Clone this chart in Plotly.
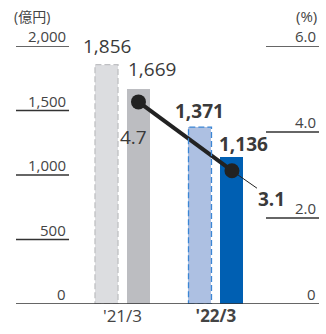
import plotly.graph_objects as go

# Fiscal periods and values
categories = ["'21/3", "'22/3"]
plan_values = [1856, 1371]        # 億円, dashed bars
actual_values = [1669, 1136]      # 億円, solid bars
ratio_values = [4.7, 3.1]         # %, line on right axis
left_ticks = [0, 500, 1000, 1500, 2000]
left_tick_text = ["0", "500", "1,000", "1,500", "2,000"]
right_ticks = [0, 2.0, 4.0, 6.0]
right_tick_text = ["0", "2.0", "4.0", "6.0"]

FONT = "Open Sans, Noto Sans CJK JP, sans-serif"
TEXT = "#3a3a3a"
plan_fill = ["#dcdde0", "#adc0e2"]
plan_edge = ["#bfc0c3", "#3b86d5"]
actual_fill = ["#bcbdc1", "#005fb2"]

OFFSET = 0.171   # bar centre offset from category centre (x units)
WIDTH = 0.246    # bar width (x units)

xc = list(range(len(categories)))
x_plan = [c - OFFSET for c in xc]
x_actual = [c + OFFSET for c in xc]

fig = go.Figure()

fig.add_trace(go.Bar(x=x_plan, y=plan_values, width=WIDTH,
                     marker=dict(color=plan_fill, line=dict(width=0)),
                     hoverinfo="skip", showlegend=False))
fig.add_trace(go.Bar(x=x_actual, y=actual_values, width=WIDTH,
                     marker=dict(color=actual_fill, line=dict(width=0)),
                     hoverinfo="skip", showlegend=False))

# dashed outlines on the plan bars
for xp, v, ec in zip(x_plan, plan_values, plan_edge):
    fig.add_shape(type="rect", xref="x", yref="y",
                  x0=xp - WIDTH / 2, x1=xp + WIDTH / 2, y0=0, y1=v,
                  line=dict(color=ec, width=1.3, dash="6px,3px"),
                  fillcolor="rgba(0,0,0,0)", layer="above")

# ratio line
fig.add_trace(go.Scatter(x=x_actual, y=ratio_values, yaxis="y2",
                         mode="lines+markers",
                         line=dict(color="#222222", width=4),
                         marker=dict(size=15, color="#222222"),
                         hoverinfo="skip", showlegend=False))

# bar value labels
plan_bold = [False, True]
actual_bold = [False, True]
plan_yshift = [4, 1]
actual_xshift = [14, 12]
actual_yshift = [5, -2]
for xp, v, b, dy in zip(x_plan, plan_values, plan_bold, plan_yshift):
    t = f"{v:,}"
    fig.add_annotation(x=xp, y=v, xref="x", yref="y",
                       text=f"<b>{t}</b>" if b else t, showarrow=False,
                       yanchor="bottom", yshift=dy,
                       font=dict(family=FONT, size=19, color=TEXT))
for xa, v, b, dx, dy in zip(x_actual, actual_values, actual_bold,
                            actual_xshift, actual_yshift):
    t = f"{v:,}"
    fig.add_annotation(x=xa, y=v, xref="x", yref="y",
                       text=f"<b>{t}</b>" if b else t, showarrow=False,
                       yanchor="bottom", yshift=dy, xshift=dx,
                       font=dict(family=FONT, size=19, color=TEXT))

# ratio labels
fig.add_annotation(x=x_actual[0], y=ratio_values[0], xref="x", yref="y2",
                   text=f"{ratio_values[0]:.1f}", showarrow=False,
                   xshift=-5, yshift=-35,
                   font=dict(family=FONT, size=19, color=TEXT))
fig.add_annotation(x=x_actual[1], y=ratio_values[1], xref="x", yref="y2",
                   text=f"<b>{ratio_values[1]:.1f}</b>", showarrow=True,
                   arrowhead=0, arrowwidth=1, arrowcolor="#222222",
                   ax=40, ay=28, standoff=5,
                   font=dict(family=FONT, size=19, color=TEXT))

# left axis ticks: short rules with labels above, right-aligned
for v, t in zip(left_ticks, left_tick_text):
    if v > 0:
        fig.add_shape(type="line", xref="paper", yref="y",
                      x0=0, x1=0.175, y0=v, y1=v,
                      line=dict(color="#333333", width=1.3))
    fig.add_annotation(x=0.172, y=v, xref="paper", yref="y", text=t,
                       showarrow=False, xanchor="right", yanchor="bottom",
                       yshift=-2, font=dict(family=FONT, size=15, color="#444444"))

# right axis ticks
for v, t in zip(right_ticks, right_tick_text):
    if v > 0:
        fig.add_shape(type="line", xref="paper", yref="y2",
                      x0=0.825, x1=1, y0=v, y1=v,
                      line=dict(color="#333333", width=1.3))
    fig.add_annotation(x=0.997, y=v, xref="paper", yref="y2", text=t,
                       showarrow=False, xanchor="right", yanchor="bottom",
                       yshift=-2, font=dict(family=FONT, size=15, color="#444444"))

# baseline
fig.add_shape(type="line", xref="paper", yref="y", x0=0, x1=1, y0=0, y1=0,
              line=dict(color="#333333", width=1.5), layer="above")

# unit captions
fig.add_annotation(x=-0.012, y=1.115, xref="paper", yref="paper", text="(億円)",
                   showarrow=False, xanchor="left", yanchor="middle",
                   font=dict(family=FONT, size=14, color="#444444"))
fig.add_annotation(x=1.0, y=1.115, xref="paper", yref="paper", text="(%)",
                   showarrow=False, xanchor="right", yanchor="middle",
                   font=dict(family=FONT, size=15, color="#444444"))

cat_text = [categories[0], f"<b>{categories[1]}</b>"]

fig.update_layout(
    width=326, height=334,
    margin=dict(l=16, r=7, t=46, b=28),
    paper_bgcolor="white", plot_bgcolor="white",
    bargap=0, barmode="overlay",
    xaxis=dict(range=[-1.139, 2.102], tickvals=xc, ticktext=cat_text,
               showgrid=False, zeroline=False, showline=False, ticks="",
               tickfont=dict(family=FONT, size=17, color="#444444")),
    yaxis=dict(range=[0, 2000], showgrid=False, zeroline=False,
               showticklabels=False, showline=False),
    yaxis2=dict(range=[0, 6], overlaying="y", side="right", showgrid=False,
                zeroline=False, showticklabels=False, showline=False),
)

fig.write_html("out.html")
